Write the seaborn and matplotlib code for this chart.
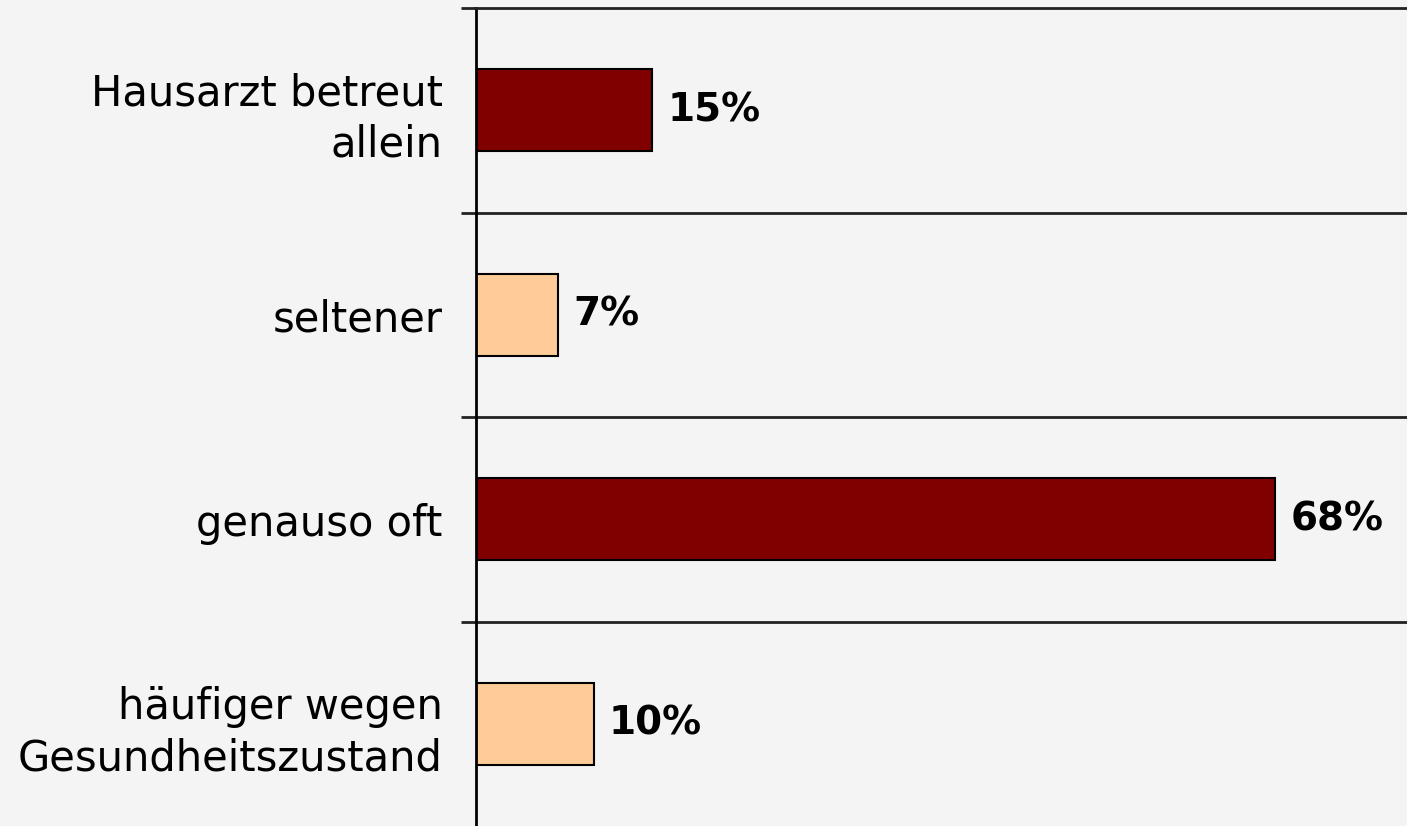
import matplotlib
matplotlib.use("Agg")
import matplotlib.pyplot as plt
import seaborn as sns
import pandas as pd

categories = ["Hausarzt betreut\nallein", "seltener", "genauso oft",
              "häufiger wegen\nGesundheitszustand"]
values = [15, 7, 68, 10]
value_labels = ["15%", "7%", "68%", "10%"]
bar_colors = ["#800000", "#FFCC99", "#800000", "#FFCC99"]

sns.set_style("white")
plt.rcParams['font.family'] = ['DejaVu Sans']

bg = "#f4f4f4"
fig = plt.figure(figsize=(14.07, 8.26), dpi=100, facecolor=bg)
ax = fig.add_axes([476/1407, 0, 1 - 476/1407, 1 - 8/826])
ax.set_facecolor(bg)

df = pd.DataFrame({"cat": categories, "val": values})
sns.barplot(data=df, x="val", y="cat", hue="cat", palette=bar_colors,
            saturation=1, orient="h", width=0.4, edgecolor="black",
            linewidth=1.5, legend=False, ax=ax)

ax.set_xlim(0, 79.2)
ax.set_ylim(3.5, -0.5)
ax.set_xlabel("")
ax.set_ylabel("")
ax.set_xticks([])

for s in ["right", "bottom"]:
    ax.spines[s].set_visible(False)
ax.spines["top"].set_visible(True)
ax.spines["top"].set_color("#222222")
ax.spines["top"].set_linewidth(2)
ax.spines["left"].set_color("black")
ax.spines["left"].set_linewidth(2)

# separators
for yb in [0.5, 1.5, 2.5]:
    ax.axhline(yb, color="#222222", lw=2, zorder=0)
ax.set_yticks([-0.5, 0.5, 1.5, 2.5], minor=True)
ax.tick_params(axis="y", which="minor", length=11, width=2, color="#222222",
               direction="out", left=True)
ax.tick_params(axis="y", which="major", length=0, pad=24, labelsize=30,
               labelcolor="black")
for t in ax.get_yticklabels():
    t.set_multialignment("right")
    t.set_linespacing(1.27)

for i, (v, lab) in enumerate(zip(values, value_labels)):
    ax.text(v + 1.3, i, lab, ha="left", va="center", fontsize=28,
            fontweight="bold", color="black")

fig.savefig("out.png", dpi=100, facecolor=bg)
